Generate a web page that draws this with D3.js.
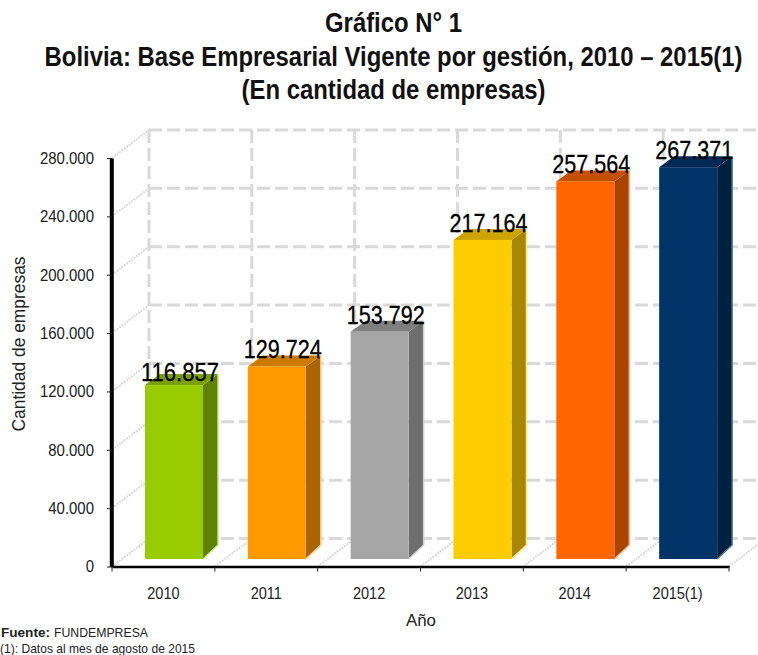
<!DOCTYPE html>
<html>
<head>
<meta charset="utf-8">
<script src="https://cdn.jsdelivr.net/npm/d3@7"></script>
<style>
  html, body { margin: 0; padding: 0; background: #fff; }
  svg { display: block; font-family: "Liberation Sans", Arial, sans-serif; }
</style>
</head>
<body>
<script>
const years = ['2010', '2011', '2012', '2013', '2014', '2015(1)'];
const empresas = [116857, 129724, 153792, 217164, 257564, 267371];
const yTicks = [0, 40000, 80000, 120000, 160000, 200000, 240000, 280000];
const frontColors = ['#99cc00', '#ff9900', '#a6a6a6', '#ffcc00', '#ff6600', '#003366'];
const sideColors = ['#5f8000', '#a86500', '#6e6e6e', '#a88700', '#a84300', '#002040'];
const topColors = ['#7a9f00', '#cc7a00', '#7f7f7f', '#cca300', '#c45000', '#002a55'];
const edgeColors = ['#cce680', '#ffcc80', '#d2d2d2', '#ffe680', '#ffb380', '#5a7a9a'];
const titleLines = ['Gráfico N° 1', 'Bolivia: Base Empresarial Vigente por gestión, 2010 – 2015(1)', '(En cantidad de empresas)'];

const fmt = v => d3.format(',')(v).replace(/,/g, '.');

const svgWidth = 758, svgHeight = 655;
const x0 = 112, x1 = 729, y0 = 566.5, yTop = 158;
const wallDx = 37, wallDy = 28;      // depth of the floor
const barInset = 33, barWidth = 58, barBase = 559;
const depthX = 15, depthTop = 11, depthBase = 14;

const svg = d3.select('body').append('svg')
  .attr('width', svgWidth)
  .attr('height', svgHeight);

const x = d3.scaleBand().domain(years).range([x0, x1]);
const y = d3.scaleLinear().domain([0, 280000]).range([y0, yTop]);
// the bars sit on their own plane, a bit behind the axis
const yBar = d3.scaleLinear().domain([0, 280000]).range([554.3, 148.9]);

// squeeze a text to a share of its natural width
function squeeze(sel, ratio) {
  sel.each(function () {
    const w = this.getComputedTextLength();
    d3.select(this)
      .attr('textLength', w * ratio)
      .attr('lengthAdjust', 'spacingAndGlyphs');
  });
}

// title, scaled because its natural width is wider than the page
svg.append('g').selectAll('text')
  .data(titleLines)
  .join('text')
  .attr('transform', (d, i) => `translate(393.5,${[32, 66, 99][i]}) scale(0.885,1)`)
  .attr('text-anchor', 'middle')
  .attr('font-weight', 'bold')
  .attr('font-size', 27)
  .attr('fill', '#111')
  .text(d => d);

// grid: back wall and floor lines
const grid = svg.append('g')
  .attr('fill', 'none')
  .attr('stroke', '#d9d9d9')
  .attr('stroke-width', 3);

grid.selectAll('.h')
  .data(yTicks)
  .join('line')
  .attr('class', 'h')
  .attr('x1', x0 + wallDx)
  .attr('x2', svgWidth)
  .attr('y1', d => y(d) - wallDy)
  .attr('y2', d => y(d) - wallDy)
  .attr('stroke-dasharray', '13 5');

grid.selectAll('.v')
  .data(years)
  .join('line')
  .attr('class', 'v')
  .attr('x1', d => x(d) + wallDx)
  .attr('x2', d => x(d) + wallDx)
  .attr('y1', y(280000) - wallDy)
  .attr('y2', y(0) - wallDy)
  .attr('stroke-dasharray', '13 5');

grid.selectAll('.wall')
  .data(yTicks)
  .join('line')
  .attr('class', 'wall')
  .attr('x1', x0)
  .attr('x2', x0 + wallDx)
  .attr('y1', d => y(d))
  .attr('y2', d => y(d) - wallDy)
  .attr('stroke-width', 2)
  .attr('stroke-dasharray', '2 1');

grid.selectAll('.floor')
  .data(years.slice(1).map(d => x(d)).concat([x1]))
  .join('line')
  .attr('class', 'floor')
  .attr('x1', d => d)
  .attr('x2', d => d + wallDx)
  .attr('y1', y(0))
  .attr('y2', y(0) - wallDy)
  .attr('stroke-width', 2)
  .attr('stroke-dasharray', '2 1');

// bars
const bars = svg.append('g').selectAll('g')
  .data(years.map((d, i) => ({ year: d, value: empresas[i], i })))
  .join('g');

const barLeft = d => x(d.year) + barInset;
const barTop = d => yBar(d.value);

bars.append('path')
  .attr('fill', d => sideColors[d.i])
  .attr('d', d => {
    const r = barLeft(d) + barWidth;
    return `M${r},${barTop(d)}L${r + depthX},${barTop(d) - depthTop}L${r + depthX},${barBase - depthBase}L${r},${barBase}Z`;
  });

// light edge around the side face
bars.append('path')
  .attr('fill', 'none')
  .attr('stroke', d => edgeColors[d.i])
  .attr('stroke-width', 1.5)
  .attr('d', d => {
    const r = barLeft(d) + barWidth;
    return `M${r + depthX},${barTop(d) - depthTop}L${r + depthX},${barBase - depthBase}L${r},${barBase}`;
  });

bars.append('path')
  .attr('fill', d => topColors[d.i])
  .attr('d', d => {
    const l = barLeft(d), t = barTop(d);
    return `M${l},${t}L${l + depthX},${t - depthTop}L${l + barWidth + depthX},${t - depthTop}L${l + barWidth},${t}Z`;
  });

bars.append('rect')
  .attr('x', barLeft)
  .attr('y', barTop)
  .attr('width', barWidth)
  .attr('height', d => barBase - barTop(d))
  .attr('fill', d => frontColors[d.i]);

// axes
const yAxis = d3.axisLeft(y)
  .tickValues(yTicks)
  .tickFormat(fmt)
  .tickSize(5)
  .tickSizeOuter(0)
  .tickPadding(13);

const gy = svg.append('g')
  .attr('transform', `translate(${x0},0)`)
  .call(yAxis);
gy.select('.domain').attr('stroke', '#000').attr('stroke-width', 4).attr('transform', 'translate(-0.7,0)');
gy.selectAll('.tick line').attr('stroke', '#222');
gy.selectAll('text')
  .attr('font-size', 17)
  .attr('fill', '#222')
  .call(squeeze, 0.88);

const xAxis = d3.axisBottom(x).tickSize(0).tickPadding(21);
const gx = svg.append('g')
  .attr('transform', `translate(0,${y0})`)
  .call(xAxis);
gx.select('.domain').attr('stroke', '#000').attr('stroke-width', 2.5);
gx.selectAll('text')
  .attr('font-size', 16.5)
  .attr('fill', '#222')
  .call(squeeze, 0.88);
gx.selectAll('.edge')
  .data(years.map(d => x(d)).concat([x1]))
  .join('line')
  .attr('class', 'edge')
  .attr('x1', d => d)
  .attr('x2', d => d)
  .attr('y1', 0)
  .attr('y2', 5)
  .attr('stroke', '#222');

// value labels
bars.append('text')
  .attr('x', d => barLeft(d) + 35)
  .attr('y', d => barTop(d) - (d.i === 0 ? 4 : 8))
  .attr('text-anchor', 'middle')
  .attr('font-size', 26)
  .attr('fill', '#000')
  .attr('stroke', '#000')
  .attr('stroke-width', 0.3)
  .attr('textLength', 78)
  .attr('lengthAdjust', 'spacingAndGlyphs')
  .text(d => fmt(d.value));

// axis titles
svg.append('text')
  .attr('transform', 'translate(25,344) rotate(-90)')
  .attr('text-anchor', 'middle')
  .attr('font-size', 17.5)
  .attr('fill', '#222')
  .attr('textLength', 175)
  .attr('lengthAdjust', 'spacingAndGlyphs')
  .text('Cantidad de empresas');

svg.append('text')
  .attr('x', 421)
  .attr('y', 626)
  .attr('text-anchor', 'middle')
  .attr('font-size', 17)
  .attr('fill', '#222')
  .attr('textLength', 30)
  .attr('lengthAdjust', 'spacingAndGlyphs')
  .text('Año');

// source notes
svg.append('text')
  .attr('x', 1)
  .attr('y', 637)
  .attr('font-size', 13)
  .attr('font-weight', 'bold')
  .attr('fill', '#222')
  .attr('textLength', 49)
  .attr('lengthAdjust', 'spacingAndGlyphs')
  .text('Fuente:');

svg.append('text')
  .attr('x', 54)
  .attr('y', 637)
  .attr('font-size', 13)
  .attr('fill', '#222')
  .attr('textLength', 94)
  .attr('lengthAdjust', 'spacingAndGlyphs')
  .text('FUNDEMPRESA');

svg.append('text')
  .attr('x', 0)
  .attr('y', 653)
  .attr('font-size', 13)
  .attr('fill', '#222')
  .attr('textLength', 195)
  .attr('lengthAdjust', 'spacingAndGlyphs')
  .text('(1): Datos al mes de agosto de 2015');
</script>
</body>
</html>
